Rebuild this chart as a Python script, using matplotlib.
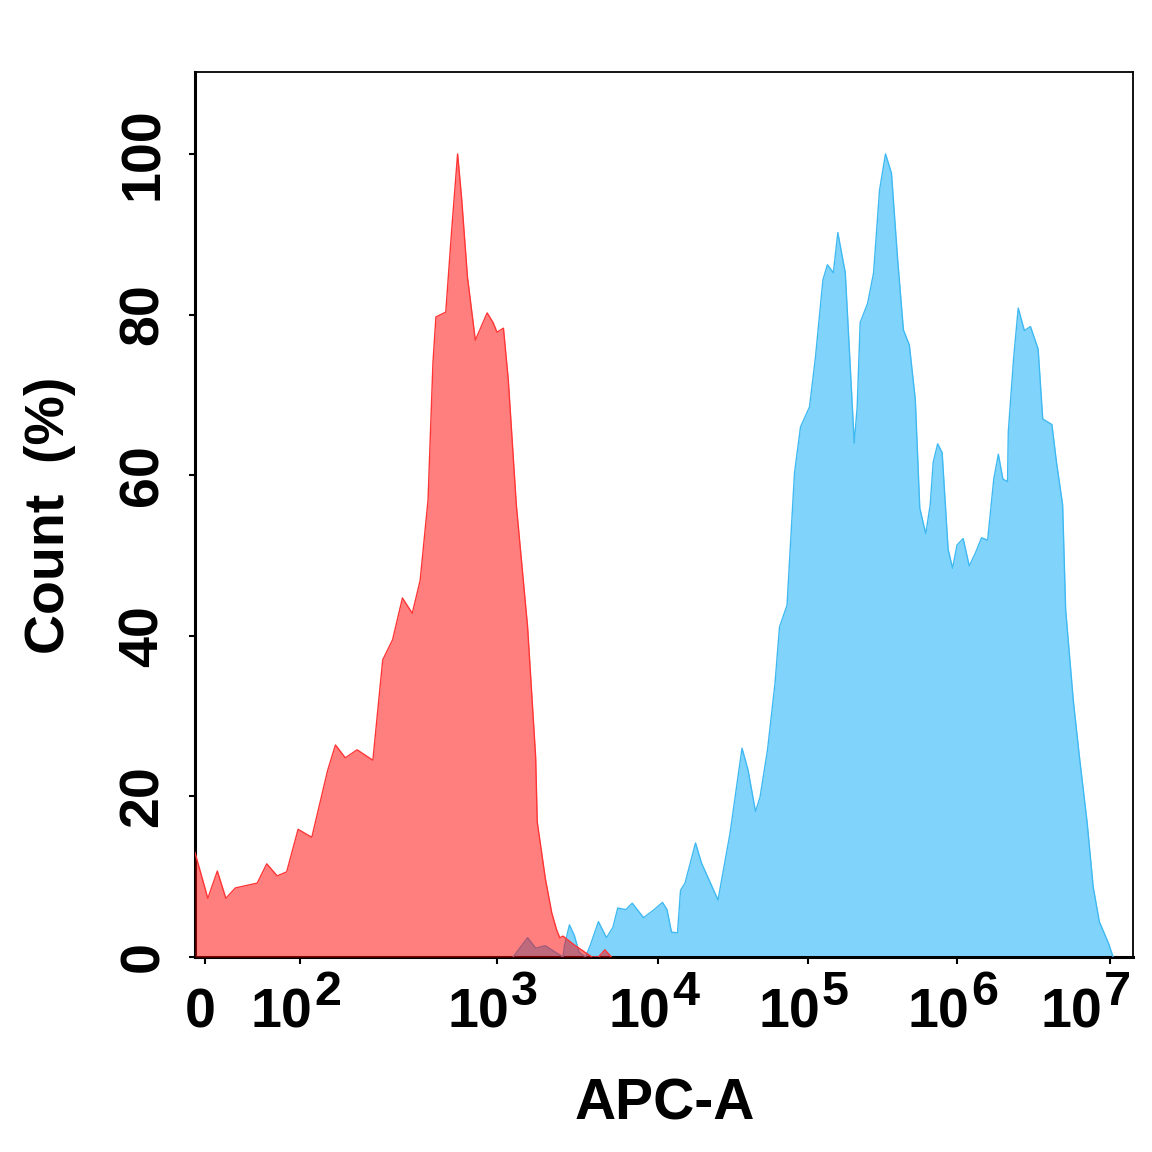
import numpy as np
import matplotlib
matplotlib.use("Agg")
from matplotlib import pyplot as plt

plt.rcParams['font.family'] = 'Liberation Sans'
plt.rcParams['font.weight'] = 'bold'

# x values are in decades of APC-A on the biexponential display (1.0 = the "0" tick)
red_x = [0.895, 1.03, 1.13, 1.22, 1.32, 1.55, 1.65, 1.76, 1.86, 1.98, 2.06, 2.14, 2.18,
         2.23, 2.29, 2.37, 2.42, 2.47, 2.52, 2.57, 2.61, 2.65, 2.675, 2.69, 2.74, 2.77,
         2.80, 2.82, 2.85, 2.89, 2.92, 2.95, 2.98, 3.00, 3.04, 3.07, 3.12, 3.19, 3.24,
         3.25, 3.30, 3.34, 3.37, 3.39, 3.41, 3.48, 3.56, 3.59, 3.63, 3.67, 3.71]
red_y = [13.0, 7.3, 10.7, 7.3, 8.6, 9.2, 11.6, 10.1, 10.6, 15.9, 14.9, 23.2, 26.4,
         24.8, 25.8, 24.5, 37.0, 39.5, 44.7, 42.8, 46.9, 56.9, 74.0, 79.7, 80.3, 90.5,
         100.0, 94.6, 84.7, 76.8, 78.5, 80.2, 79.0, 77.8, 78.3, 71.9, 56.3, 41.1, 24.9,
         16.8, 9.8, 5.5, 3.4, 2.4, 2.6, 1.5, 0.4, 0.0, 0.0, 0.9, 0.0]

blue_x = [3.10, 3.19, 3.24, 3.30, 3.37, 3.41, 3.42, 3.45, 3.48, 3.51, 3.55, 3.58, 3.63,
          3.68, 3.72, 3.75, 3.80, 3.84, 3.91, 3.97, 4.03, 4.06, 4.09, 4.13, 4.15, 4.18,
          4.25, 4.29, 4.40, 4.48, 4.56, 4.60, 4.65, 4.68, 4.73, 4.78, 4.81, 4.86, 4.91,
          4.95, 5.01, 5.05, 5.10, 5.13, 5.17, 5.20, 5.25, 5.28, 5.31, 5.33, 5.35, 5.40,
          5.44, 5.48, 5.52, 5.56, 5.60, 5.64, 5.68, 5.72, 5.75, 5.79, 5.82, 5.84, 5.87,
          5.90, 5.94, 5.97, 6.00, 6.04, 6.08, 6.12, 6.16, 6.20, 6.24, 6.27, 6.30, 6.33,
          6.335, 6.37, 6.40, 6.44, 6.48, 6.53, 6.56, 6.62, 6.65, 6.69, 6.71, 6.76, 6.80,
          6.85, 6.89, 6.93, 6.99, 7.02]
blue_y = [0.0, 2.4, 1.1, 1.4, 0.5, 0.0, 1.5, 4.0, 2.7, 0.6, 0.0, 1.5, 4.4,
          2.4, 3.7, 6.1, 5.9, 6.7, 4.9, 5.8, 6.8, 5.9, 3.1, 3.0, 8.3, 9.2,
          14.2, 11.7, 7.1, 15.4, 26.0, 23.3, 18.1, 19.9, 25.8, 34.1, 41.1, 43.8, 60.3,
          66.0, 68.5, 74.7, 84.3, 86.2, 85.2, 90.2, 85.2, 74.7, 64.0, 68.5, 79.0, 81.4,
          85.2, 95.5, 100.0, 97.6, 87.2, 78.1, 76.2, 69.4, 55.9, 52.7, 56.3, 61.6, 63.9,
          62.8, 50.8, 48.4, 51.3, 52.1, 48.7, 50.3, 52.2, 51.9, 59.5, 62.6, 59.5, 59.2,
          65.4, 74.6, 80.8, 78.0, 78.5, 75.7, 67.0, 66.3, 61.6, 56.3, 43.2, 31.9, 24.9,
          16.8, 8.7, 4.4, 1.7, 0.0]

tick_pos = [1, 2, 3, 4, 5, 6, 7]
tick_exps = [None, '2', '3', '4', '5', '6', '7']
y_ticks = [0, 20, 40, 60, 80, 100]

# display scale: decade width varies like a biexponential axis
U_KNOTS = [0.8, 1, 2, 3, 4, 5, 6, 7, 7.5]
P_KNOTS = [186, 205, 300, 497, 658, 808, 957, 1110, 1186.5]


def fwd(u):
    return np.interp(u, U_KNOTS, P_KNOTS)


def inv(p):
    return np.interp(p, P_KNOTS, U_KNOTS)


fig = plt.figure(figsize=(11.52, 11.52), dpi=100)
ax = fig.add_axes([195 / 1152, 1 - 957 / 1152, (1133 - 195) / 1152, (957 - 72) / 1152])
ax.set_xscale('function', functions=(fwd, inv))

ax.fill_between(blue_x, blue_y, color='#80d4fc', lw=0, zorder=2)
ax.plot(blue_x, blue_y, color='#3fb9f2', lw=1, zorder=3)
ax.fill_between(red_x, red_y, color='#ff0000', alpha=0.5, lw=0, zorder=4)
ax.plot(red_x, red_y, color='#ff3535', lw=1, zorder=5)

ax.set_xlim(0.895, 7.15)
ax.set_ylim(0, 110.2)
ax.set_xticks(tick_pos)
ax.set_xticklabels([''] * len(tick_pos))
ax.set_yticks(y_ticks)
ax.set_yticklabels([str(v) for v in y_ticks], fontsize=40, fontweight='bold',
                   rotation=90, va='center')
ax.minorticks_off()
ax.tick_params(axis='x', length=5, width=1.5)
ax.tick_params(axis='y', length=4, width=1.5, pad=14)
for s in ax.spines.values():
    s.set_linewidth(1.3)
ax.spines['left'].set_linewidth(2.2)
ax.spines['bottom'].set_linewidth(2.2)

# power-of-ten labels with large superscripts
for pos, e in zip(tick_pos, tick_exps):
    if e is None:
        ax.annotate('0', xy=(pos, 0), xycoords=('data', 'axes fraction'),
                    xytext=(-5, -71), textcoords='offset pixels',
                    ha='center', va='baseline', fontsize=40, fontweight='bold')
        continue
    shift = -20 if e == '7' else 0
    ax.annotate('10', xy=(pos, 0), xycoords=('data', 'axes fraction'),
                xytext=(12 + shift, -71), textcoords='offset pixels',
                ha='right', va='baseline', fontsize=40, fontweight='bold')
    ax.annotate(e, xy=(pos, 0), xycoords=('data', 'axes fraction'),
                xytext=(14 + shift, -48), textcoords='offset pixels',
                ha='left', va='baseline', fontsize=35, fontweight='bold',
                annotation_clip=False)

fig.text(665 / 1152, 1 - 1105 / 1152, 'APC-A', fontsize=41, fontweight='bold',
         ha='center', va='center')
fig.text(50 / 1152, 1 - 515 / 1152, 'Count  (%)', fontsize=40, fontweight='bold',
         ha='center', va='center', rotation=90)

fig.savefig('out.png', dpi=100, facecolor='white')
